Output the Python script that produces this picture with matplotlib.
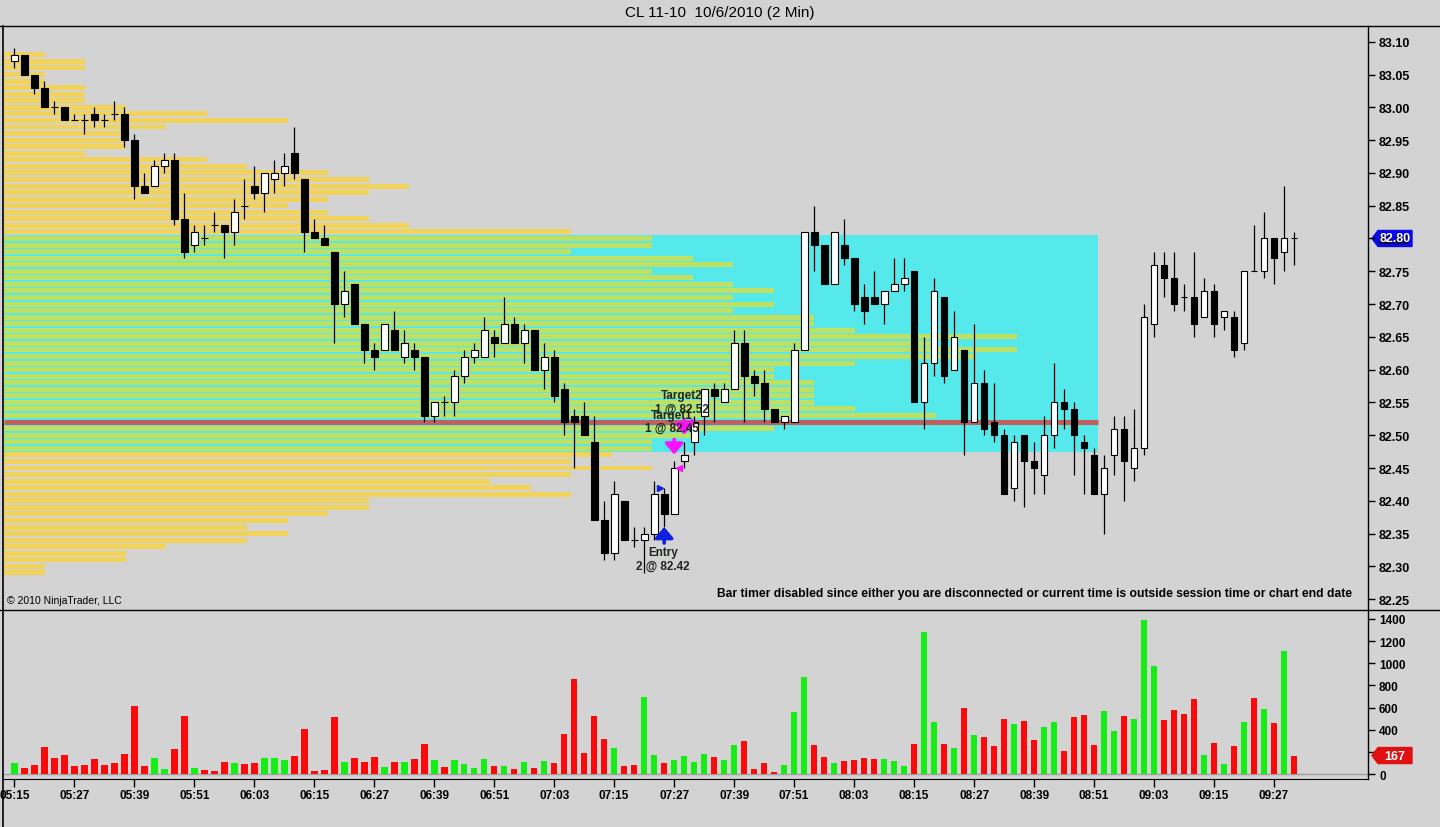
import matplotlib
matplotlib.use("Agg")
import matplotlib.pyplot as plt
import matplotlib.transforms as mtransforms
from matplotlib.patches import Rectangle, Polygon
from matplotlib.lines import Line2D
import numpy as np

plt.rcParams['font.family'] = ['Liberation Sans', 'DejaVu Sans']

# --- CL 11-10, barras de 2 minutos desde las 05:15 ---
opens = [83.07, 83.08, 83.05, 83.03, 83.00, 83.00, 82.98, 82.98, 82.99, 82.98,
         82.99, 82.99, 82.95, 82.88, 82.88, 82.91, 82.92, 82.83, 82.79, 82.80,
         82.82, 82.82, 82.81, 82.85, 82.88, 82.87, 82.89, 82.90, 82.93, 82.89,
         82.81, 82.80, 82.78, 82.70, 82.73, 82.67, 82.63, 82.63, 82.66, 82.62,
         82.63, 82.62, 82.53, 82.55, 82.55, 82.59, 82.62, 82.62, 82.65, 82.64,
         82.67, 82.64, 82.66, 82.60, 82.62, 82.57, 82.53, 82.53, 82.49, 82.37,
         82.32, 82.40, 82.34, 82.34, 82.35, 82.41, 82.38, 82.46, 82.49, 82.53,
         82.57, 82.55, 82.57, 82.64, 82.59, 82.58, 82.54, 82.52, 82.52, 82.63,
         82.81, 82.79, 82.73, 82.79, 82.77, 82.71, 82.71, 82.70, 82.72, 82.73,
         82.75, 82.55, 82.61, 82.71, 82.60, 82.63, 82.52, 82.58, 82.52, 82.50,
         82.42, 82.50, 82.46, 82.44, 82.50, 82.55, 82.54, 82.49, 82.47, 82.41,
         82.47, 82.51, 82.45, 82.48, 82.67, 82.76, 82.74, 82.71, 82.71, 82.68,
         82.72, 82.68, 82.68, 82.64, 82.75, 82.75, 82.80, 82.78, 82.80]
highs = [83.09, 83.08, 83.05, 83.04, 83.01, 83.00, 82.99, 82.99, 83.00, 82.99,
         83.01, 83.00, 82.96, 82.90, 82.92, 82.93, 82.93, 82.87, 82.82, 82.82,
         82.84, 82.82, 82.86, 82.89, 82.91, 82.90, 82.92, 82.93, 82.97, 82.89,
         82.83, 82.82, 82.78, 82.75, 82.73, 82.67, 82.64, 82.67, 82.69, 82.66,
         82.64, 82.62, 82.55, 82.56, 82.60, 82.63, 82.64, 82.68, 82.66, 82.71,
         82.68, 82.67, 82.66, 82.64, 82.63, 82.58, 82.54, 82.55, 82.53, 82.40,
         82.43, 82.40, 82.36, 82.36, 82.43, 82.42, 82.46, 82.49, 82.53, 82.57,
         82.58, 82.58, 82.66, 82.66, 82.60, 82.60, 82.54, 82.53, 82.64, 82.81,
         82.85, 82.79, 82.81, 82.83, 82.77, 82.73, 82.75, 82.72, 82.77, 82.77,
         82.75, 82.65, 82.74, 82.71, 82.69, 82.63, 82.67, 82.60, 82.58, 82.51,
         82.50, 82.50, 82.49, 82.53, 82.61, 82.57, 82.55, 82.50, 82.48, 82.47,
         82.53, 82.53, 82.54, 82.70, 82.78, 82.78, 82.78, 82.73, 82.78, 82.74,
         82.73, 82.69, 82.69, 82.75, 82.82, 82.84, 82.80, 82.88, 82.81]
lows = [83.06, 83.05, 83.02, 83.00, 82.99, 82.98, 82.98, 82.96, 82.97, 82.97,
        82.98, 82.94, 82.86, 82.87, 82.88, 82.90, 82.82, 82.77, 82.78, 82.79,
        82.81, 82.77, 82.79, 82.83, 82.86, 82.84, 82.87, 82.88, 82.89, 82.78,
        82.80, 82.79, 82.64, 82.68, 82.67, 82.61, 82.60, 82.63, 82.63, 82.61,
        82.60, 82.52, 82.52, 82.53, 82.53, 82.58, 82.61, 82.62, 82.62, 82.64,
        82.64, 82.61, 82.60, 82.57, 82.55, 82.50, 82.45, 82.50, 82.37, 82.31,
        82.31, 82.34, 82.33, 82.29, 82.34, 82.36, 82.38, 82.45, 82.47, 82.50,
        82.52, 82.55, 82.57, 82.52, 82.56, 82.52, 82.52, 82.51, 82.52, 82.63,
        82.75, 82.73, 82.73, 82.76, 82.69, 82.67, 82.70, 82.67, 82.72, 82.72,
        82.55, 82.51, 82.59, 82.58, 82.60, 82.47, 82.52, 82.50, 82.49, 82.41,
        82.40, 82.39, 82.41, 82.41, 82.48, 82.51, 82.44, 82.41, 82.41, 82.35,
        82.44, 82.40, 82.43, 82.47, 82.65, 82.71, 82.69, 82.69, 82.65, 82.68,
        82.65, 82.66, 82.62, 82.63, 82.75, 82.74, 82.73, 82.75, 82.76]
closes = [83.08, 83.05, 83.03, 83.00, 83.00, 82.98, 82.98, 82.98, 82.98, 82.98,
          82.99, 82.95, 82.88, 82.87, 82.91, 82.92, 82.83, 82.78, 82.81, 82.80,
          82.82, 82.81, 82.84, 82.85, 82.87, 82.90, 82.90, 82.91, 82.90, 82.81,
          82.80, 82.79, 82.70, 82.72, 82.67, 82.63, 82.62, 82.67, 82.63, 82.64,
          82.62, 82.53, 82.55, 82.55, 82.59, 82.62, 82.63, 82.66, 82.64, 82.67,
          82.64, 82.66, 82.60, 82.62, 82.56, 82.52, 82.52, 82.50, 82.37, 82.32,
          82.41, 82.34, 82.34, 82.35, 82.41, 82.38, 82.45, 82.47, 82.52, 82.57,
          82.56, 82.57, 82.64, 82.59, 82.58, 82.54, 82.52, 82.53, 82.63, 82.81,
          82.79, 82.73, 82.81, 82.77, 82.70, 82.69, 82.70, 82.72, 82.73, 82.74,
          82.55, 82.61, 82.72, 82.59, 82.65, 82.52, 82.58, 82.51, 82.50, 82.41,
          82.49, 82.46, 82.45, 82.50, 82.55, 82.54, 82.50, 82.48, 82.41, 82.45,
          82.51, 82.46, 82.48, 82.68, 82.76, 82.74, 82.70, 82.71, 82.67, 82.72,
          82.67, 82.69, 82.63, 82.75, 82.75, 82.80, 82.77, 82.80, 82.80]
volumes = [102, 54, 84, 246, 147, 174, 75, 84, 138, 84,
           102, 183, 615, 75, 147, 48, 228, 525, 57, 39,
           30, 111, 102, 93, 102, 147, 147, 129, 165, 408,
           30, 39, 516, 111, 147, 111, 156, 66, 111, 111,
           138, 273, 129, 66, 129, 93, 57, 138, 75, 75,
           48, 111, 57, 120, 102, 363, 858, 192, 525, 318,
           237, 75, 84, 696, 174, 102, 129, 165, 111, 183,
           156, 129, 264, 300, 48, 102, 21, 84, 561, 876,
           264, 156, 102, 120, 129, 147, 138, 138, 120, 75,
           273, 1281, 471, 273, 237, 597, 354, 336, 255, 498,
           453, 480, 309, 426, 471, 210, 516, 534, 264, 570,
           390, 525, 498, 1389, 975, 489, 579, 543, 678, 174,
           282, 93, 255, 471, 687, 588, 462, 1110, 167]

time_labels = ['05:15', '05:27', '05:39', '05:51', '06:03', '06:15', '06:27', '06:39',
               '06:51', '07:03', '07:15', '07:27', '07:39', '07:51', '08:03', '08:15',
               '08:27', '08:39', '08:51', '09:03', '09:15', '09:27']
bars_per_label = 6

# perfil de volumen (unidades por nivel de precio, de 83.08 hacia abajo)
profile_top = 83.08
profile_counts = [1, 2, 2, 1, 1, 2, 2, 2, 3, 5,
                  7, 4, 3, 3, 3, 2, 5, 6, 8, 9,
                  10, 9, 8, 7, 8, 9, 10, 14, 16, 16,
                  14, 17, 18, 16, 17, 18, 19, 18, 19, 18,
                  20, 20, 21, 25, 23, 25, 24, 21, 19, 19,
                  20, 20, 20, 20, 21, 23, 27, 19, 17, 16,
                  16, 15, 14, 16, 14, 12, 13, 14, 9, 9,
                  8, 7, 6, 7, 6, 4, 3, 3, 1, 1]
va_high = 82.80
va_low = 82.48

price_ticks = [83.10, 83.05, 83.00, 82.95, 82.90, 82.85, 82.80, 82.75, 82.70,
               82.65, 82.60, 82.55, 82.50, 82.45, 82.40, 82.35, 82.30, 82.25]
vol_ticks = [0, 200, 400, 600, 800, 1000, 1200, 1400]

# ejecuciones: barra, precio, nombre, cantidad, lado
exec_bars = [65, 66, 67]
exec_prices = [82.42, 82.45, 82.52]
exec_names = ['Entry', 'Target1', 'Target2']
exec_qty = [2, 1, 1]
exec_side = ['buy', 'sell', 'sell']

BG = '#d3d3d3'
YELLOW = '#f1d35c'
GREEN = '#bfe163'
CYAN = '#55e9ec'
POC_RED = '#c25e5c'
UP_VOL = '#14ee14'
DN_VOL = '#fa0a0a'
TXT = '#202420'

W, H = 1440, 828
fig = plt.figure(figsize=(W / 100, H / 100), dpi=100, facecolor=BG)


def fx(px):
    return px / W


def fy(py):
    return 1 - py / H


# Paneles
pos_price = [fx(4), fy(610), fx(1364), (610 - 27) / H]
pos_vol = [fx(4), fy(780), fx(1364), (780 - 611) / H]
xlim = (-1.03, 135.4)

ax_prof = fig.add_axes(pos_price)
ax = fig.add_axes(pos_price, sharey=ax_prof)
axv = fig.add_axes(pos_vol)
ax_prof.set_zorder(1)
ax.set_zorder(2)
ax.patch.set_visible(False)
ax_prof.set_facecolor(BG)
axv.set_facecolor(BG)

ax.set_xlim(*xlim)
ax.set_ylim(82.235, 83.124)
axv.set_xlim(*xlim)
axv.set_ylim(-45, 1481)

# --- perfil de volumen ---
n_levels = len(profile_counts)
levels = np.round(profile_top - 0.01 * np.arange(n_levels), 2)
counts = np.array(profile_counts)
max_count = counts.max()
poc = levels[np.argmax(counts)]
in_va = (levels <= va_high + 1e-9) & (levels >= va_low - 1e-9)
ax_prof.set_xlim(0, 1364 / 40.5)
ax_prof.add_patch(Rectangle((0, va_low - 0.005), max_count, va_high - va_low + 0.01,
                            facecolor=CYAN, linewidth=0, zorder=0))
ax_prof.barh(levels, counts, height=0.0076, left=0,
             color=[GREEN if v else YELLOW for v in in_va], linewidth=0, zorder=1)
ax_prof.hlines(poc, 0, max_count, color=POC_RED, linewidth=3.6, zorder=2)
ax_prof.set_axis_off()

# --- velas ---
x = np.arange(len(opens))
o = np.array(opens)
c = np.array(closes)
up = c > o
ax.vlines(x, lows, highs, color='black', linewidth=0.9, zorder=2)
ax.bar(x, np.abs(c - o), bottom=np.minimum(o, c), width=0.68,
       color=np.where(up, 'white', 'black'), edgecolor='black', linewidth=0.8, zorder=3)

# --- ejecuciones ---
for b, p, name, q, side in zip(exec_bars, exec_prices, exec_names, exec_qty, exec_side):
    label = f"{name}\n{q} @ {p:.2f}"
    if side == 'buy':
        ax.plot(b - 0.45, p, marker='>', markersize=5, color='#1020e0', zorder=5)
        ax.annotate('', xy=(b, lows[b]), xytext=(0, -16), textcoords='offset pixels',
                    arrowprops=dict(arrowstyle='-|>,head_length=0.35,head_width=0.3',
                                    lw=2.6, color='#1020e0', shrinkA=0, shrinkB=0,
                                    mutation_scale=18), zorder=5)
        ax.annotate(label, xy=(b, lows[b]), xytext=(-1, -32), textcoords='offset pixels',
                    ha='center', va='center', fontsize=8.5, fontweight='bold',
                    color=TXT, linespacing=1.15, zorder=6)
    else:
        ax.plot(b + 0.45, p, marker='<', markersize=5, color='#ff10ff', zorder=5)
        ax.annotate('', xy=(b, highs[b]), xytext=(0, 22), textcoords='offset pixels',
                    arrowprops=dict(arrowstyle='-|>,head_length=0.35,head_width=0.3',
                                    lw=2.6, color='#ff10ff', shrinkA=0, shrinkB=5,
                                    mutation_scale=18), zorder=5)
        ax.annotate(label, xy=(b, highs[b]), xytext=(-2, 40), textcoords='offset pixels',
                    ha='center', va='center', fontsize=8.5, fontweight='bold',
                    color=TXT, linespacing=1.15, zorder=6)

# --- volumen ---
axv.bar(x, volumes, width=0.66, color=np.where(up, UP_VOL, DN_VOL), linewidth=0, zorder=2)
axv.axhline(0, color='#a0a0a0', linewidth=1, zorder=1)

# --- ejes ---
for a in (ax, axv):
    a.yaxis.tick_right()
    for s in ('top', 'left'):
        a.spines[s].set_visible(False)
    a.spines['right'].set_linewidth(1)
ax.spines['bottom'].set_visible(False)
ax.set_xticks([])
ax.set_yticks(price_ticks)
ax.set_yticklabels([f"{t:.2f}" for t in price_ticks], fontweight='bold')
ax.tick_params(axis='y', length=5, width=1, pad=3, labelsize=9, colors='black')

# la etiqueta del ultimo volumen tapa el rotulo cercano
vol_px_per_unit = (775 - 620) / 1400
vol_labels = ['' if abs(t - volumes[-1]) * vol_px_per_unit < 12 and t != 0 else str(t)
              for t in vol_ticks]
axv.set_yticks(vol_ticks)
axv.set_yticklabels(vol_labels, fontweight='bold')
axv.tick_params(axis='y', length=5, width=1, pad=3, labelsize=8.5)
axv.set_xticks(np.arange(len(time_labels)) * bars_per_label)
axv.set_xticklabels(time_labels, fontweight='bold')
axv.tick_params(axis='x', length=6, width=1, pad=1.5, labelsize=8.5)


# etiqueta de ultimo valor junto al eje
def value_tag(a, value, text, color):
    trans = mtransforms.blended_transform_factory(a.transAxes, a.transData)
    x0, y0 = trans.transform((1.0, value))
    pts = [(x0 + 4, y0), (x0 + 10, y0 + 8), (x0 + 44, y0 + 8),
           (x0 + 44, y0 - 8), (x0 + 10, y0 - 8)]
    fig.add_artist(Polygon(pts, closed=True, facecolor=color, edgecolor=color,
                           transform=mtransforms.IdentityTransform()))
    fig.text((x0 + 27) / W, y0 / H, text, color='white', fontsize=9, fontweight='bold',
             ha='center', va='center')


value_tag(ax, closes[-1], f"{closes[-1]:.2f}", '#0a0ae6')
value_tag(axv, volumes[-1], str(volumes[-1]), '#e01010')

# marcos
for y0 in (27, 610.5):
    fig.add_artist(Line2D([0, 1], [fy(y0), fy(y0)], color='black', linewidth=1,
                          transform=fig.transFigure))
fig.add_artist(Line2D([fx(3), fx(3)], [fy(27), 0], color='black', linewidth=1.2,
                      transform=fig.transFigure))

# textos
fig.text(0.5, fy(13), "CL 11-10  10/6/2010 (2 Min)", ha='center', va='center', fontsize=11)
ax.text(0.0022, 0.0154, "\u00a9 2010 NinjaTrader, LLC", transform=ax.transAxes,
        ha='left', va='center', fontsize=7.5, zorder=6)
ax.text(0.9883, 0.0274, "Bar timer disabled since either you are disconnected or current "
        "time is outside session time or chart end date", transform=ax.transAxes,
        ha='right', va='center', fontsize=8.7, fontweight='bold', zorder=6)

fig.savefig('out.png', dpi=100, facecolor=BG)
